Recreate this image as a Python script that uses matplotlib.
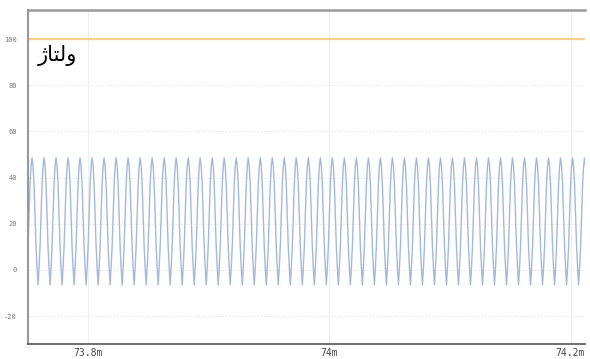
import numpy as np
import matplotlib
matplotlib.use('Agg')
import matplotlib.pyplot as plt

plt.rcParams['axes.unicode_minus'] = False

# one cycle of the voltage trace (starts on the rising edge)
cycle = [10, 24, 37, 45, 48.5, 45, 37, 24, 10, 1, -6.5, 1]
n_cycles = 47
t_start = 73.7502   # ms
period = 0.00996    # ms
ref_level = 100

xticks = [73.8, 74.0, 74.2]
xtick_labels = ['73.8m', '74m', '74.2m']
yticks = [-20, 0, 20, 40, 60, 80, 100]

# visual-order presentation forms of "ولتاژ"
label = '\uFB8A\uFE8E\uFE98\uFEDF\uFEED'

values = np.tile(cycle, n_cycles)
t = t_start + np.arange(len(values)) * period / len(cycle)

fig = plt.figure(figsize=(5.9, 3.59), dpi=100)
ax = fig.add_axes([0.0475, 0.042, 0.944, 0.930])

ax.plot(t, values, color='#a3b9db', lw=1.0)
ax.axhline(ref_level, color='#f6cf95', lw=1.6)

ax.set_xlim(73.7502, 74.212)
ax.set_ylim(-32.1, 112.6)
ax.set_xticks(xticks)
ax.set_xticklabels(xtick_labels)
ax.set_yticks(yticks)

ax.grid(True, axis='y', color='#e4e4e4', lw=0.8, ls=':')
ax.grid(True, axis='x', color='#eeeeee', lw=0.8)

ax.tick_params(axis='both', length=0)
ax.tick_params(axis='y', labelsize=5, labelcolor='#777777', pad=8)
ax.tick_params(axis='x', labelsize=7, labelcolor='#444444', pad=3)
for lab in ax.get_xticklabels() + ax.get_yticklabels():
    lab.set_family('DejaVu Sans Mono')

ax.spines['right'].set_visible(False)
ax.spines['top'].set_color('#999999')
ax.spines['top'].set_linewidth(1.8)
ax.spines['left'].set_color('#999999')
ax.spines['left'].set_linewidth(1.5)
ax.spines['bottom'].set_color('#555555')
ax.spines['bottom'].set_linewidth(1.2)

ax.text(73.7585, 97.5, label, fontsize=15, color='black', va='top', ha='left',
        family='DejaVu Sans')

fig.savefig('out.png', dpi=100)
